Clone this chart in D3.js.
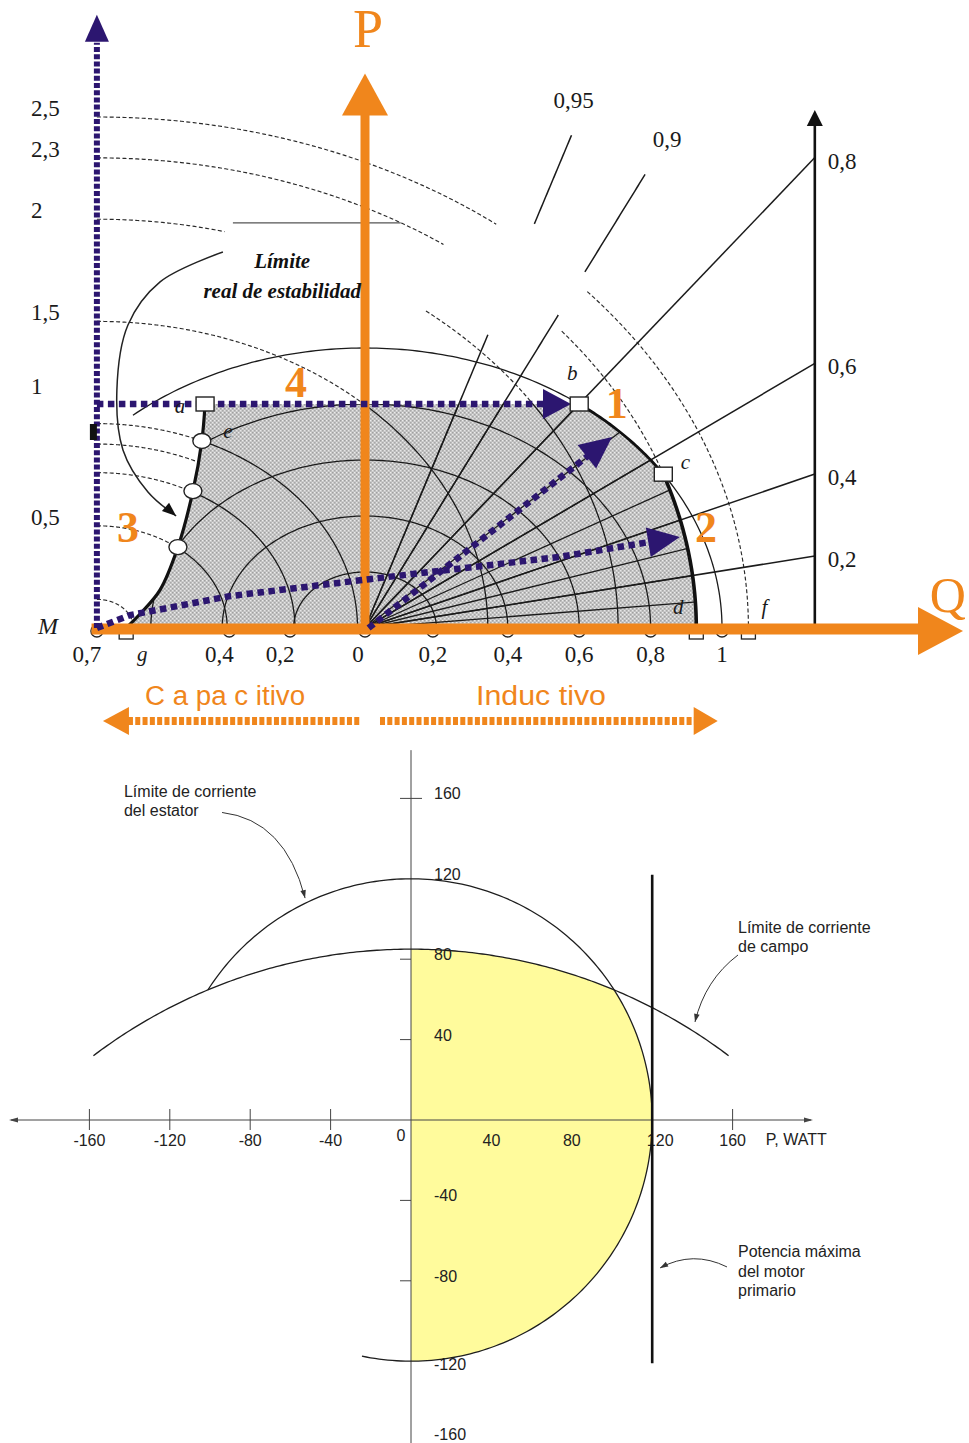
<!DOCTYPE html>
<html>
<head>
<meta charset="utf-8">
<script src="https://cdn.jsdelivr.net/npm/d3@7"></script>
<style>
  html, body { margin: 0; padding: 0; background: #fff; }
  svg { display: block; }
</style>
</head>
<body>
<svg id="chart" width="969" height="1443"></svg>
<script>
// ================= Operating chart of a synchronous machine (per unit) =================
const sCircles = [0.2, 0.4, 0.6, 0.8];              // apparent-power circles inside the zone
const sLimit = 1.0;                                   // stator current limit
const sLimitFromQ = -0.65;                            // where the thin S=1 arc starts on the left
const pfInside = [0.95, 0.9, 0.8, 0.7, 0.6, 0.5, 0.4, 0.3, 0.2, 0.1];
const pfOuter = [0.8, 0.6, 0.4, 0.2];                 // carried to the right-hand scale
const pfOuterLabels = ["0,8", "0,6", "0,4", "0,2"];
const pfUpper = [0.95, 0.9];
const pfUpperLabels = ["0,95", "0,9"];
const pfUpperEnds = [1.76, 1.62];                     // P where these lines stop
const pfUpperGaps = [[[1.05, 1.44]], [[1.12, 1.27]]]; // P ranges left blank
const mPoint = -0.751;                                // centre M of the excitation circles
const eRadiusPerUnit = 0.73;                          // circle radius per unit of E
const eScaleValues = [2.5, 2.3, 2, 1.5, 1, 0.5];
const eScaleLabels = ["2,5", "2,3", "2", "1,5", "1", "0,5"];
const eInside = [0.5, 0.76, 1.0, 1.5, 2.0];
const eOutside = [0.14, 0.5, 0.76, 0.9, 1.0, 1.5, 2.0, 2.3, 2.5];
const eOutsideGaps = { "2": [[-0.39, 0.17]], "2.3": [[0.22, 0.55]], "2.5": [[0.37, 0.62]] };
const eFieldLimit = 2.3;
const eOuterCircle = 2.5;
const pTurbine = 0.8;
const stabilityQ = [-0.669, -0.625, -0.574, -0.524, -0.482, -0.457, -0.448];
const stabilityP = [0, 0.057, 0.136, 0.289, 0.489, 0.668, 0.8];
const stabilityMarkers = [3, 4, 5];
const qMarks = [-0.751, -0.38, -0.21, 0, 0.19, 0.4, 0.6, 0.8, 1.0];
const qMarkLabels = ["0,7", "0,4", "0,2", "0", "0,2", "0,4", "0,6", "0,8", "1"];
const rightScaleQ = 1.26;
const rightScaleTop = 1.8;

// annotation paths (per unit: [Q, P])
const arrowTurbine = [[-0.751, 0.8], [0.499, 0.8]], arrowTurbineTip = [0.577, 0.8];
const arrowStator = [[0.01, 0.0]], arrowStatorTip = [0.692, 0.682];
const arrowField = [[-0.751, 0.0], [-0.658, 0.046], [-0.378, 0.114], [0.042, 0.179], [0.546, 0.254]];
const arrowFieldTip = [0.882, 0.325];
const stabilityPointer = [[-0.398, 1.343], [-0.574, 1.236], [-0.664, 1.082], [-0.695, 0.85],
                          [-0.678, 0.636], [-0.608, 0.486], [-0.529, 0.4]];

// ================= Capability curve (W / VAR) =================
const statorRating = 120;
const fieldCenterQ = -177, fieldRadius = 262, fieldArcHalfP = 158;
const primeMoverP = 120, primeMoverQ = [122, -121];
const statorArcEndP = -24.4;
const xTickVals = [-160, -120, -80, -40, 40, 80, 120, 160];
const xTickMarks = [-160, -120, -80, -40, 160];
const yTickVals = [160, 120, 80, 40, -40, -80, -120, -160];
const yTickMarks = [160, 80, 40, -40, -80];
const pointerStator = [[-94, 153], [-62.7, 149.3], [-52.7, 110.4]];
const pointerField = [[162.7, 82.1], [146.3, 69.7], [141.3, 48.8]];
const pointerPrime = [[157.2, -73.1], [140.3, -64.7], [123.9, -73.6]];

// ---------------------------------------------------------------
const svg = d3.select("#chart");
const ORANGE = "#f0861c", PURPLE = "#2c1670", INK = "#1b1b1b";
const SERIF = "'Liberation Serif', 'DejaVu Serif', serif";
const SANS = "'Liberation Sans', Arial, sans-serif";

const xT = d3.scaleLinear().domain([0, 1]).range([365, 722]);
const yT = d3.scaleLinear().domain([0, 1]).range([628, 348]);
const P = d => [xT(d[0]), yT(d[1])];
const lineT = d3.line().x(d => xT(d[0])).y(d => yT(d[1]));
const smoothT = d3.line().curve(d3.curveCatmullRom.alpha(0.5)).x(d => xT(d[0])).y(d => yT(d[1]));

function arc(cq, r, a0, a1, n = 160) {
  return d3.range(n + 1).map(i => {
    const a = a0 + (a1 - a0) * i / n;
    return [cq + r * Math.cos(a), r * Math.sin(a)];
  });
}
function splitByGaps(pts, gaps, key) {
  const segs = []; let cur = [];
  pts.forEach(p => {
    const hidden = gaps.some(g => p[key] > g[0] && p[key] < g[1]);
    if (hidden) { if (cur.length > 1) segs.push(cur); cur = []; }
    else cur.push(p);
  });
  if (cur.length > 1) segs.push(cur);
  return segs;
}
function head(g, tip, from, len, half, fill) {
  const dx = tip[0] - from[0], dy = tip[1] - from[1], L = Math.hypot(dx, dy);
  const ux = dx / L, uy = dy / L, bx = tip[0] - ux * len, by = tip[1] - uy * len;
  g.append("path")
    .attr("d", `M${tip[0]},${tip[1]}L${bx - uy * half},${by + ux * half}L${bx + uy * half},${by - ux * half}Z`)
    .attr("fill", fill);
}

// key points of the operating zone
const rField = eFieldLimit * eRadiusPerUnit;
const qB = Math.sqrt(sLimit * sLimit - pTurbine * pTurbine);
const qC = (rField * rField - mPoint * mPoint - sLimit * sLimit) / (-2 * mPoint);
const pC = Math.sqrt(sLimit * sLimit - qC * qC);
const qD = mPoint + rField;
const qF = mPoint + eOuterCircle * eRadiusPerUnit;
const stabPts = stabilityQ.map((q, i) => [q, stabilityP[i]]);
const rest = [[qB, pTurbine]]
  .concat(arc(0, sLimit, Math.atan2(pTurbine, qB), Math.atan2(pC, qC), 40))
  .concat(arc(mPoint, rField, Math.atan2(pC, qC - mPoint), 0, 80));
const zonePath = smoothT(stabPts) + lineT(rest).replace(/^M/, "L") + "Z";

// defs: stipple, clip and mask of the zone
const defs = svg.append("defs");
const pat = defs.append("pattern").attr("id", "stipple").attr("width", 4).attr("height", 4)
  .attr("patternUnits", "userSpaceOnUse");
pat.append("rect").attr("width", 4).attr("height", 4).attr("fill", "#c7c7c7");
pat.append("rect").attr("x", 0).attr("y", 0).attr("width", 1.4).attr("height", 1.4).attr("fill", "#a0a0a0");
pat.append("rect").attr("x", 2).attr("y", 2).attr("width", 1.4).attr("height", 1.4).attr("fill", "#a8a8a8");
pat.append("rect").attr("x", 2).attr("y", 0).attr("width", 1.2).attr("height", 1.2).attr("fill", "#ececec");
pat.append("rect").attr("x", 0).attr("y", 2).attr("width", 1.2).attr("height", 1.2).attr("fill", "#e6e6e6");
defs.append("clipPath").attr("id", "zoneClip").append("path").attr("d", zonePath);
const zoneMask = defs.append("mask").attr("id", "outsideZone").attr("maskUnits", "userSpaceOnUse")
  .attr("x", 0).attr("y", 0).attr("width", 969).attr("height", 1443);
zoneMask.append("rect").attr("width", 969).attr("height", 1443).attr("fill", "#fff");
zoneMask.append("path").attr("d", zonePath).attr("fill", "#000");

const gOp = svg.append("g");

// shaded operating zone
gOp.append("path").attr("d", zonePath).attr("fill", "url(#stipple)");

// grid inside the zone
const grid = gOp.append("g").attr("clip-path", "url(#zoneClip)")
  .attr("fill", "none").attr("stroke", INK).attr("stroke-width", 1.3);
sCircles.forEach(r => grid.append("path").attr("d", lineT(arc(0, r, 0, Math.PI))));
eInside.forEach(e => grid.append("path").attr("d", lineT(arc(mPoint, e * eRadiusPerUnit, Math.PI / 2, 0))));
pfInside.forEach(pf => {
  const phi = Math.acos(pf);
  grid.append("path").attr("d", lineT([[0, 0], [2 * Math.sin(phi), 2 * Math.cos(phi)]]));
});

// excitation circles outside the zone (dashed)
const dashed = gOp.append("g").attr("mask", "url(#outsideZone)")
  .attr("fill", "none").attr("stroke", "#2a2a2a").attr("stroke-width", 1.15).attr("stroke-dasharray", "4 2.4");
eOutside.forEach(e => {
  const pts = arc(mPoint, e * eRadiusPerUnit, Math.PI / 2, 0, 400);
  splitByGaps(pts, eOutsideGaps[String(e)] || [], 0)
    .forEach(seg => dashed.append("path").attr("d", lineT(seg)));
});

// stator current circle (thin)
gOp.append("path").attr("d", lineT(arc(0, sLimit, Math.acos(sLimitFromQ), 0)))
  .attr("fill", "none").attr("stroke", INK).attr("stroke-width", 1.3);

// power-factor lines
const pfg = gOp.append("g").attr("fill", "none").attr("stroke", INK).attr("stroke-width", 1.5);
pfOuter.forEach(pf => {
  const phi = Math.acos(pf);
  pfg.append("path").attr("d", lineT([[0, 0], [rightScaleQ, rightScaleQ / Math.tan(phi)]]));
});
pfUpper.forEach((pf, i) => {
  const t = Math.tan(Math.acos(pf));
  const pts = d3.range(0, 201).map(k => { const p = pfUpperEnds[i] * k / 200; return [p * t, p]; });
  splitByGaps(pts, pfUpperGaps[i], 1).forEach(seg => pfg.append("path").attr("d", lineT(seg)));
});

// right-hand power-factor scale
gOp.append("path").attr("d", lineT([[rightScaleQ, 0], [rightScaleQ, rightScaleTop]]))
  .attr("stroke", "#111").attr("stroke-width", 2.6);
head(gOp, P([rightScaleQ, 1.85]), P([rightScaleQ, 1.6]), 16, 8, "#111");

// thick limits of the zone
const thick = gOp.append("g").attr("fill", "none").attr("stroke", "#111").attr("stroke-linecap", "round");
thick.append("path").attr("d", smoothT(stabPts)).attr("stroke-width", 3.2);
thick.append("path").attr("d", lineT(arc(0, sLimit, Math.atan2(pTurbine, qB), Math.atan2(pC, qC), 40))).attr("stroke-width", 2.8);
thick.append("path").attr("d", lineT(arc(mPoint, rField, Math.atan2(pC, qC - mPoint), 0, 80))).attr("stroke-width", 3.6);

// edge of the label panel
gOp.append("path").attr("d", lineT([[-0.37, 1.447], [0.1, 1.447]]))
  .attr("stroke", "#555").attr("stroke-width", 1.2);

// pointer towards the stability limit
gOp.append("path").attr("d", smoothT(stabilityPointer))
  .attr("fill", "none").attr("stroke", "#222").attr("stroke-width", 1.5);
head(gOp, P(stabilityPointer[6]), P(stabilityPointer[5]), 14, 5.5, "#111");

// marks on the Q axis (beneath the orange axis)
qMarks.forEach(q => gOp.append("circle").attr("cx", xT(q)).attr("cy", yT(0) + 3).attr("r", 6)
  .attr("fill", "#fff").attr("stroke", "#222").attr("stroke-width", 1.3));
[stabilityQ[0], qD, qF].forEach(q => gOp.append("rect")
  .attr("x", xT(q) - 7).attr("y", yT(0) - 1).attr("width", 14).attr("height", 12)
  .attr("fill", "#fff").attr("stroke", "#222").attr("stroke-width", 1.3));

// orange axes P and Q
gOp.append("path").attr("d", lineT([[0, 0], [0, 1.84]])).attr("stroke", ORANGE).attr("stroke-width", 9);
head(gOp, P([0, 1.98]), P([0, 1.5]), 42, 23, ORANGE);
gOp.append("path").attr("d", `M${xT(-0.766)},${yT(0) + 1}L${xT(1.553)},${yT(0) + 1}`)
  .attr("stroke", ORANGE).attr("stroke-width", 11);
head(gOp, [xT(1.675), yT(0) + 3], [xT(1.2), yT(0) + 3], 45, 24, ORANGE);

// purple reference axis through M
gOp.append("path").attr("d", lineT([[mPoint, 0], [mPoint, 2.09]]))
  .attr("stroke", PURPLE).attr("stroke-width", 6).attr("stroke-dasharray", "5 2.2");
head(gOp, P([mPoint, 2.19]), P([mPoint, 1.9]), 27, 12, PURPLE);
gOp.append("rect").attr("x", xT(mPoint) - 7).attr("y", yT(0.7) - 8).attr("width", 7).attr("height", 16).attr("fill", "#111");

// purple dotted moves
const dots = gOp.append("g").attr("fill", "none").attr("stroke", PURPLE)
  .attr("stroke-width", 6.5).attr("stroke-dasharray", "6.5 4.5");
dots.append("path").attr("d", lineT(arrowTurbine));
head(gOp, P(arrowTurbineTip), P(arrowTurbine[1]), 28, 15, PURPLE);
(function () {
  const tip = P(arrowStatorTip), from = P(arrowStator[0]);
  const dx = tip[0] - from[0], dy = tip[1] - from[1], L = Math.hypot(dx, dy);
  dots.append("path").attr("d", `M${from[0]},${from[1]}L${tip[0] - dx / L * 30},${tip[1] - dy / L * 30}`);
  head(gOp, tip, from, 32, 15, PURPLE);
})();
(function () {
  const pts = arrowField.map(P), tip = P(arrowFieldTip), last = pts[pts.length - 1];
  const dx = tip[0] - last[0], dy = tip[1] - last[1], L = Math.hypot(dx, dy);
  pts.push([tip[0] - dx / L * 30, tip[1] - dy / L * 30]);
  dots.append("path").attr("d", d3.line()(pts));
  head(gOp, tip, last, 32, 15, PURPLE);
})();

// corner squares a, b, c and stability markers
[[stabilityQ[6], stabilityP[6]], [qB, pTurbine], [qC, pC]].forEach(d => gOp.append("rect")
  .attr("x", xT(d[0]) - 9).attr("y", yT(d[1]) - 7).attr("width", 18).attr("height", 14)
  .attr("fill", "#fff").attr("stroke", "#222").attr("stroke-width", 1.4));
stabilityMarkers.forEach(i => gOp.append("ellipse")
  .attr("cx", xT(stabilityQ[i])).attr("cy", yT(stabilityP[i])).attr("rx", 9).attr("ry", 7.5)
  .attr("fill", "#fff").attr("stroke", "#222").attr("stroke-width", 1.4));

// ---------- text of the operating chart ----------
const txt = gOp.append("g").attr("font-family", SERIF).attr("fill", "#1a1a1a");
eScaleValues.forEach((e, i) => {
  const nudge = e === 1 ? -30 : -1;
  txt.append("text").attr("x", 31).attr("y", yT(e * eRadiusPerUnit) + nudge)
    .attr("font-size", 23).text(eScaleLabels[i]);
});
txt.append("text").attr("x", 38).attr("y", yT(0) + 6).attr("font-size", 24)
  .attr("font-style", "italic").text("M");
qMarks.forEach((q, i) => {
  const dx = q < 0 ? -10 : (q === 0 ? -7 : 0);
  txt.append("text").attr("x", xT(q) + dx).attr("y", yT(0) + 34).attr("text-anchor", "middle")
    .attr("font-size", 23).text(qMarkLabels[i]);
});
pfOuter.forEach((pf, i) => {
  const pEnd = rightScaleQ / Math.tan(Math.acos(pf));
  txt.append("text").attr("x", xT(rightScaleQ) + 13).attr("y", yT(pEnd) + 11)
    .attr("font-size", 23).text(pfOuterLabels[i]);
});
pfUpper.forEach((pf, i) => {
  const t = Math.tan(Math.acos(pf)), pe = pfUpperEnds[i];
  txt.append("text").attr("x", xT(pe * t) + (i === 0 ? 2 : 22)).attr("y", yT(pe) - 27)
    .attr("text-anchor", "middle").attr("font-size", 23).text(pfUpperLabels[i]);
});
const italic = (q, p, s, dx, dy) => txt.append("text").attr("x", xT(q) + dx).attr("y", yT(p) + dy)
  .attr("font-size", 21).attr("font-style", "italic").attr("text-anchor", "middle").text(s);
italic(stabilityQ[6], pTurbine, "a", -25, 9);
italic(stabilityQ[5], stabilityP[5], "e", 26, -3);
italic(qB, pTurbine, "b", -7, -24);
italic(qC, pC, "c", 22, -5);
italic(qD, 0, "d", -18, -14);
italic(qF, 0, "f", 16, -14);
italic(stabilityQ[0], 0, "g", 16, 33);

const num = (q, p, s) => gOp.append("text").attr("x", xT(q)).attr("y", yT(p)).attr("text-anchor", "middle")
  .attr("font-family", SERIF).attr("font-weight", "bold").attr("font-size", 44).attr("fill", ORANGE).text(s);
num(0.705, 0.75, "1");
num(0.955, 0.307, "2");
num(-0.664, 0.307, "3");
num(-0.193, 0.825, "4");

gOp.append("text").attr("x", xT(0) + 3).attr("y", yT(2.075)).attr("text-anchor", "middle")
  .attr("font-family", SERIF).attr("font-size", 54).attr("fill", ORANGE).text("P");
gOp.append("text").attr("x", xT(1.582)).attr("y", yT(0.057))
  .attr("font-family", SERIF).attr("font-size", 50).attr("fill", ORANGE).text("Q");

const lim = gOp.append("g").attr("font-family", SERIF).attr("font-weight", "bold")
  .attr("font-style", "italic").attr("font-size", 21).attr("fill", "#111").attr("text-anchor", "middle");
lim.append("text").attr("x", xT(-0.232)).attr("y", yT(1.285)).text("Límite");
lim.append("text").attr("x", xT(-0.232)).attr("y", yT(1.18)).text("real de estabilidad");

// capacitive / inductive band
const band = gOp.append("g");
const bandY = yT(-0.332);
band.append("path").attr("d", `M${xT(-0.664)},${bandY}L${xT(-0.014)},${bandY}`)
  .attr("stroke", ORANGE).attr("stroke-width", 8).attr("stroke-dasharray", "5 2.3");
band.append("path").attr("d", `M${xT(0.042)},${bandY}L${xT(0.927)},${bandY}`)
  .attr("stroke", ORANGE).attr("stroke-width", 8).attr("stroke-dasharray", "5 2.3");
head(band, [xT(-0.734), bandY], [xT(0), bandY], 26, 14, ORANGE);
head(band, [xT(0.988), bandY], [xT(0), bandY], 24, 14, ORANGE);
band.append("text").attr("x", xT(-0.616)).attr("y", yT(-0.275)).attr("font-family", SANS)
  .attr("font-size", 27).attr("fill", ORANGE).attr("textLength", 160).attr("lengthAdjust", "spacingAndGlyphs")
  .text("C a pa c itivo");
band.append("text").attr("x", xT(0.311)).attr("y", yT(-0.275)).attr("font-family", SANS)
  .attr("font-size", 27).attr("fill", ORANGE).attr("textLength", 130).attr("lengthAdjust", "spacingAndGlyphs")
  .text("Induc tivo");

// ================= capability curve =================
const x2 = d3.scaleLinear().domain([0, 160]).range([411, 732.6]);
const y2 = d3.scaleLinear().domain([0, 160]).range([1120, 798.4]);
const line2 = d3.line().x(d => x2(d[0])).y(d => y2(d[1]));
const gCap = svg.append("g");
const AX = "#444";

// y tick marks (right halves fall under the shaded area)
yTickMarks.forEach(v => gCap.append("path").attr("d", `M${x2(0) - 11},${y2(v)}L${x2(0) + 11},${y2(v)}`)
  .attr("stroke", AX).attr("stroke-width", 1));

// permitted region
const yInt = (statorRating ** 2 + fieldCenterQ ** 2 - fieldRadius ** 2) / (2 * fieldCenterQ);
const xInt = Math.sqrt(statorRating ** 2 - yInt ** 2);
const fieldArc = (a0, a1, n = 120) => d3.range(n + 1).map(i => {
  const a = a0 + (a1 - a0) * i / n; return [fieldRadius * Math.cos(a), fieldCenterQ + fieldRadius * Math.sin(a)];
});
const statorArc = (a0, a1, n = 200) => d3.range(n + 1).map(i => {
  const a = a0 + (a1 - a0) * i / n; return [statorRating * Math.cos(a), statorRating * Math.sin(a)];
});
const regionPts = fieldArc(Math.PI / 2, Math.atan2(yInt - fieldCenterQ, xInt), 60)
  .concat(statorArc(Math.atan2(yInt, xInt), -Math.PI / 2, 120));
gCap.append("path").attr("d", line2(regionPts) + "Z").attr("fill", "#fffb9c");

// axes
gCap.append("path").attr("d", `M${x2(-199)},${y2(0)}L${x2(199)},${y2(0)}`).attr("stroke", AX).attr("stroke-width", 1);
head(gCap, [x2(-200), y2(0)], [x2(0), y2(0)], 9, 2.6, AX);
head(gCap, [x2(200), y2(0)], [x2(0), y2(0)], 9, 2.6, AX);
gCap.append("path").attr("d", `M${x2(0)},${y2(184)}L${x2(0)},${y2(-163)}`).attr("stroke", AX).attr("stroke-width", 1);
xTickMarks.forEach(v => gCap.append("path").attr("d", `M${x2(v)},${y2(0) - 11}L${x2(v)},${y2(0) + 10}`)
  .attr("stroke", AX).attr("stroke-width", 1));

// tick labels
const lab = gCap.append("g").attr("font-family", SANS).attr("font-size", 16).attr("fill", "#222");
xTickVals.forEach(v => lab.append("text").attr("x", x2(v) + (v === 120 ? 8 : 0)).attr("y", y2(0) + 26)
  .attr("text-anchor", "middle").text(String(v)));
lab.append("text").attr("x", x2(0) - 10).attr("y", y2(0) + 21).attr("text-anchor", "middle").text("0");
lab.append("text").attr("x", x2(176.5)).attr("y", y2(0) + 25).text("P, WATT");
yTickVals.forEach(v => {
  const dy = v === -120 ? 9 : (v === -160 ? -2 : 1);
  lab.append("text").attr("x", x2(0) + 23).attr("y", y2(v) + dy).text(String(v));
});

// limit curves
const curves = gCap.append("g").attr("fill", "none").attr("stroke", "#1e1e1e").attr("stroke-width", 1.3);
const statorEnd = Math.atan2(-Math.sqrt(statorRating ** 2 - statorArcEndP ** 2), statorArcEndP);
curves.append("path").attr("d", line2(statorArc(Math.atan2(yInt, -xInt), statorEnd, 240)));
const fieldTop = Math.sqrt(fieldRadius ** 2 - fieldArcHalfP ** 2);
curves.append("path").attr("d", line2(fieldArc(Math.atan2(fieldTop, -fieldArcHalfP), Math.atan2(fieldTop, fieldArcHalfP), 200)));
gCap.append("path").attr("d", line2([[primeMoverP, primeMoverQ[0]], [primeMoverP, primeMoverQ[1]]]))
  .attr("stroke", "#111").attr("stroke-width", 2.6);

// notes with leaders
const note = gCap.append("g").attr("font-family", SANS).attr("font-size", 16).attr("fill", "#222");
const noteText = (v, p, lines) => lines.forEach((s, i) => note.append("text")
  .attr("x", x2(v)).attr("y", y2(p) + i * 19.5).text(s));
noteText(-142.8, 160.7, ["Límite de corriente", "del estator"]);
noteText(162.7, 93.1, ["Límite de corriente", "de campo"]);
noteText(162.7, -68.2, ["Potencia máxima", "del motor", "primario"]);
[pointerStator, pointerField, pointerPrime].forEach(pt => {
  const a = [x2(pt[0][0]), y2(pt[0][1])], c = [x2(pt[1][0]), y2(pt[1][1])], b = [x2(pt[2][0]), y2(pt[2][1])];
  const pth = d3.path(); pth.moveTo(a[0], a[1]); pth.quadraticCurveTo(c[0], c[1], b[0], b[1]);
  gCap.append("path").attr("d", pth.toString()).attr("fill", "none").attr("stroke", "#333").attr("stroke-width", 1);
  head(gCap, b, c, 8, 2.8, "#333");
});
</script>
</body>
</html>
